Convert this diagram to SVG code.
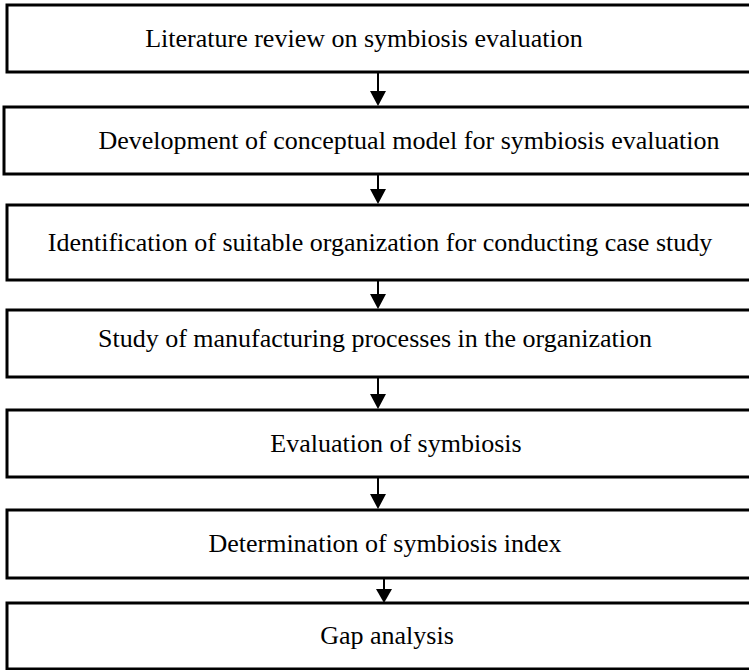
<svg xmlns="http://www.w3.org/2000/svg" width="749" height="670" viewBox="0 0 749 670">
<style>
.box{fill:#fff;stroke:#000;stroke-width:3}
.t{font-family:"Liberation Serif","Times New Roman",serif;font-size:26px;fill:#000;text-anchor:middle}
.c line{stroke:#000;stroke-width:2}
.c polygon{fill:#000}
</style>
<rect width="749" height="670" fill="#fff"/>
<g id="n1"><rect class="box" x="7" y="5" width="760" height="67"/><text class="t" x="364" y="47">Literature review on symbiosis evaluation</text></g>
<g id="n2"><rect class="box" x="4" y="107" width="760" height="67"/><text class="t" x="409" y="149">Development of conceptual model for symbiosis evaluation</text></g>
<g id="n3"><rect class="box" x="7" y="205" width="760" height="75"/><text class="t" x="380" y="251">Identification of suitable organization for conducting case study</text></g>
<g id="n4"><rect class="box" x="7" y="310" width="760" height="67"/><text class="t" x="375" y="347">Study of manufacturing processes in the organization</text></g>
<g id="n5"><rect class="box" x="7" y="410" width="760" height="67"/><text class="t" x="396" y="452">Evaluation of symbiosis</text></g>
<g id="n6"><rect class="box" x="7" y="510" width="760" height="68"/><text class="t" x="385" y="552">Determination of symbiosis index</text></g>
<g id="n7"><rect class="box" x="7" y="603" width="760" height="66"/><text class="t" x="387" y="644">Gap analysis</text></g>
<g class="c" id="connectors">
<line x1="378" y1="72" x2="378" y2="92"/><polygon points="370,91 386,91 378,106"/>
<line x1="378" y1="174" x2="378" y2="190"/><polygon points="370,189 386,189 378,204"/>
<line x1="378" y1="280" x2="378" y2="295"/><polygon points="370,294 386,294 378,309"/>
<line x1="378" y1="377" x2="378" y2="395"/><polygon points="370,394 386,394 378,409"/>
<line x1="378" y1="477" x2="378" y2="495"/><polygon points="370,494 386,494 378,509"/>
<line x1="384" y1="578" x2="384" y2="590"/><polygon points="376,589 392,589 384,603"/>
</g>
</svg>
